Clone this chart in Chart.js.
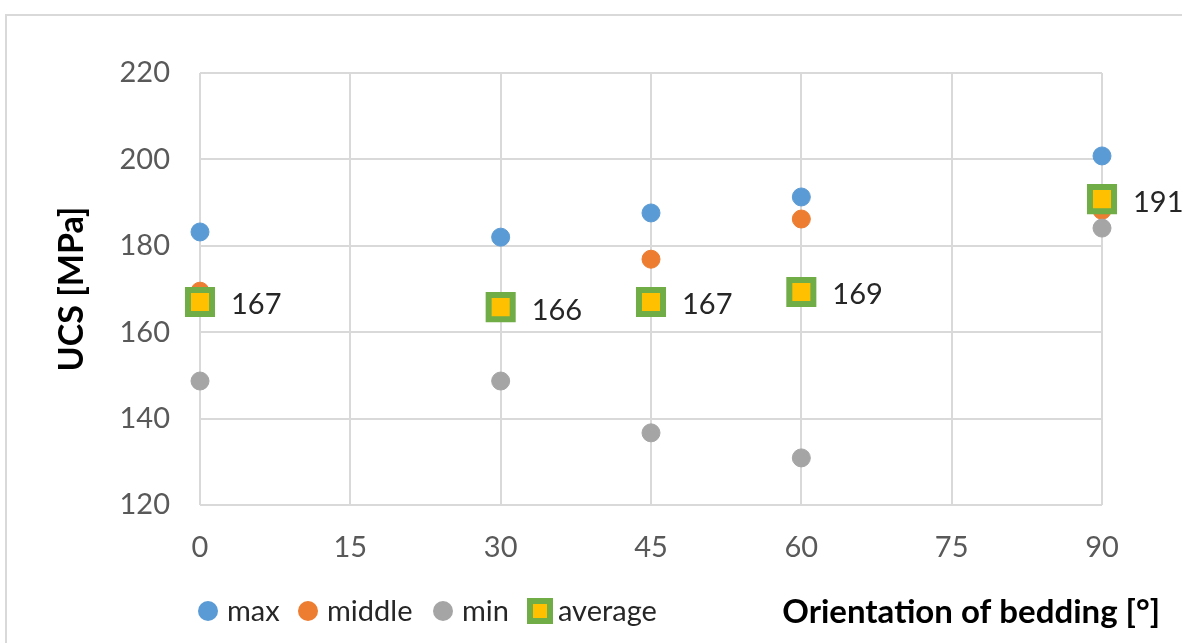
<!DOCTYPE html>
<html>
<head>
<meta charset="utf-8">
<script src="https://cdn.jsdelivr.net/npm/chart.js@4.4.1/dist/chart.umd.min.js"></script>
<style>
  body { margin: 0; background: #fff; }
  #wrap { width: 1182px; height: 643px; position: relative; }
</style>
</head>
<body>
<div id="wrap"><canvas id="ucsChart"></canvas></div>
<script>
// bedding orientation in degrees
const angles = [0, 30, 45, 60, 90];
const maxValues = [183.2, 182.0, 187.6, 191.3, 200.8];
const middleValues = [169.5, 166.5, 176.9, 186.2, 188.2];
const minValues = [148.7, 148.7, 136.7, 130.9, 184.1];
const averageValues = [167.0, 165.8, 167.0, 169.3, 190.8];
const xTicks = [0, 15, 30, 45, 60, 75, 90];
const yTicks = [120, 140, 160, 180, 200, 220];

const fontName = "Lato, 'Open Sans', sans-serif";

function toPoints(values) {
  return angles.map((a, i) => ({ x: a, y: values[i] }));
}

// frame round the chart, like the excel chart border
const framePlugin = {
  id: "frame",
  beforeDraw(chart) {
    const ctx = chart.ctx;
    ctx.save();
    ctx.fillStyle = "#fff";
    ctx.fillRect(0, 0, chart.width, chart.height);
    ctx.strokeStyle = "#d9d9d9";
    ctx.lineWidth = 2;
    ctx.strokeRect(6, 15, chart.width + 20, chart.height + 20);
    ctx.restore();
  }
};

// legend positions (left edge of each marker)
const legendX = [198, 298, 433, 527];

// value labels next to the average squares, legend and x title on one row
const labelPlugin = {
  id: "labels",
  afterDatasetsDraw(chart) {
    const ctx = chart.ctx;
    const meta = chart.getDatasetMeta(3);
    ctx.save();
    ctx.font = "29px " + fontName;
    ctx.fillStyle = "#262626";
    ctx.textBaseline = "middle";
    ctx.textAlign = "left";
    meta.data.forEach((pt, i) => {
      ctx.fillText(Math.round(averageValues[i]), pt.x + 31, pt.y + 3);
    });
    ctx.restore();
  },
  afterDraw(chart) {
    const ctx = chart.ctx;
    const rowY = 611;
    ctx.save();
    chart.data.datasets.forEach((ds, i) => {
      const x = legendX[i];
      if (ds.pointStyle === "rect") {
        ctx.fillStyle = ds.borderColor;
        ctx.fillRect(x, rowY - 13, 26, 26);
        ctx.fillStyle = ds.backgroundColor;
        ctx.fillRect(x + 6, rowY - 7, 14, 14);
      } else {
        ctx.fillStyle = ds.backgroundColor;
        ctx.beginPath();
        ctx.arc(x + 10, rowY, 10, 0, Math.PI * 2);
        ctx.fill();
      }
      ctx.font = "29px " + fontName;
      ctx.fillStyle = "#262626";
      ctx.textAlign = "left";
      ctx.textBaseline = "middle";
      ctx.fillText(ds.label, x + (ds.pointStyle === "rect" ? 31 : 29), rowY + 1);
    });
    ctx.font = "bold 33px " + fontName;
    ctx.fillStyle = "#000";
    ctx.textAlign = "right";
    ctx.fillText("Orientation of bedding [°]", 1160, rowY + 1);
    ctx.restore();
  }
};

const ctx = document.getElementById("ucsChart").getContext("2d");
new Chart(ctx, {
  type: "scatter",
  data: {
    datasets: [
      {
        label: "max",
        data: toPoints(maxValues),
        backgroundColor: "#5B9BD5",
        borderColor: "#5B9BD5",
        pointStyle: "circle",
        pointRadius: 9,
        clip: false,
        order: 4
      },
      {
        label: "middle",
        data: toPoints(middleValues),
        backgroundColor: "#ED7D31",
        borderColor: "#ED7D31",
        pointStyle: "circle",
        pointRadius: 9,
        clip: false,
        order: 3
      },
      {
        label: "min",
        data: toPoints(minValues),
        backgroundColor: "#A5A5A5",
        borderColor: "#A5A5A5",
        pointStyle: "circle",
        pointRadius: 9,
        clip: false,
        order: 2
      },
      {
        label: "average",
        data: toPoints(averageValues),
        backgroundColor: "#FFC000",
        borderColor: "#70AD47",
        borderWidth: 6,
        pointStyle: "rect",
        pointRadius: 17,
        clip: false,
        order: 1
      }
    ]
  },
  options: {
    responsive: true,
    maintainAspectRatio: false,
    animation: false,
    layout: { padding: { left: 0, right: 80, top: 73, bottom: 0 } },
    plugins: {
      tooltip: { enabled: false },
      legend: { display: false }
    },
    scales: {
      x: {
        type: "linear",
        min: 0,
        max: 90,
        afterBuildTicks: (axis) => { axis.ticks = xTicks.map(v => ({ value: v })); },
        afterFit: (axis) => { axis.height = 138; },
        grid: { color: "#d9d9d9", lineWidth: 2, drawTicks: false },
        border: { display: false },
        ticks: { color: "#595959", font: { family: fontName, size: 29 }, padding: 25 }
      },
      y: {
        type: "linear",
        min: 120,
        max: 220,
        afterBuildTicks: (axis) => { axis.ticks = yTicks.map(v => ({ value: v })); },
        afterFit: (axis) => { axis.width = 200; },
        grid: { color: "#d9d9d9", lineWidth: 2, drawTicks: false },
        border: { display: false },
        ticks: { color: "#595959", font: { family: fontName, size: 29 }, padding: 30 },
        title: {
          display: true,
          text: "UCS [MPa]",
          color: "#000",
          font: { family: fontName, size: 34, weight: "bold" },
          padding: { top: 52, bottom: 0 }
        }
      }
    }
  },
  plugins: [framePlugin, labelPlugin]
});
</script>
</body>
</html>
